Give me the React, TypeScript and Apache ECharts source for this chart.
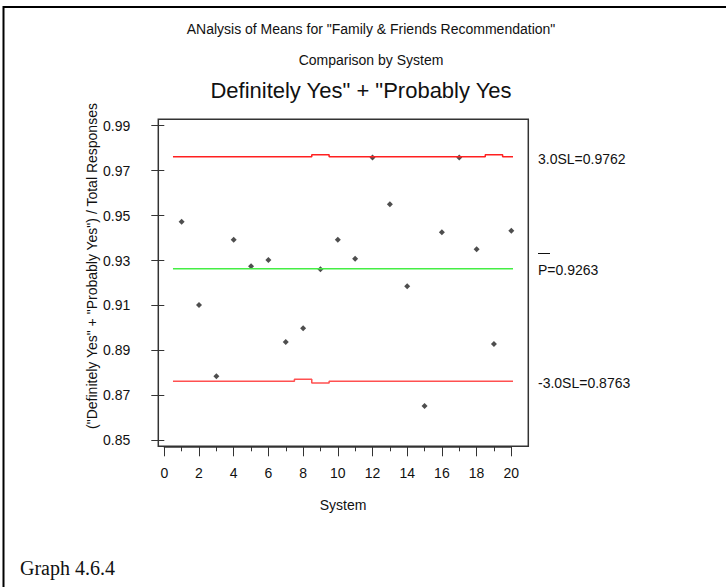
import React, { useEffect, useRef } from "react";
import * as echarts from "echarts";

const systems = [1, 2, 3, 4, 5, 6, 7, 8, 9, 10, 11, 12, 13, 14, 15, 16, 17, 18, 19, 20];
const proportions = [
  0.9473, 0.9102, 0.8785, 0.9392, 0.9274, 0.9302, 0.8937, 0.8999, 0.9261, 0.9392,
  0.9308, 0.9759, 0.9551, 0.9185, 0.8653, 0.9426, 0.9759, 0.935, 0.8929, 0.9433,
];
const centerLine = 0.9263;
const upperLimits = [
  0.9762, 0.9762, 0.9762, 0.9762, 0.9762, 0.9762, 0.9762, 0.9762, 0.9771, 0.9762,
  0.9762, 0.9762, 0.9762, 0.9762, 0.9762, 0.9762, 0.9762, 0.9762, 0.9771, 0.9762,
];
const lowerLimits = [
  0.8763, 0.8763, 0.8763, 0.8763, 0.8763, 0.8763, 0.8763, 0.8772, 0.8755, 0.8763,
  0.8763, 0.8763, 0.8763, 0.8763, 0.8763, 0.8763, 0.8763, 0.8763, 0.8763, 0.8763,
];
const titleLines = [
  'ANalysis of Means for "Family & Friends Recommendation"',
  "Comparison by System",
  'Definitely Yes" + "Probably Yes',
];
const limitLabels = ["3.0SL=0.9762", "P=0.9263", "-3.0SL=0.8763"];
const yAxisName = '("Definitely Yes" + "Probably Yes") / Total Responses';
const xAxisName = "System";
const caption = "Graph 4.6.4";

const FONT = "'Liberation Sans', Arial, sans-serif";

function stepData(limits: number[]) {
  const out: number[][] = [];
  systems.forEach((s, i) => {
    out.push([s - 0.5, limits[i]]);
    out.push([s + 0.5, limits[i]]);
  });
  return out;
}

export default function App() {
  const ref = useRef<HTMLDivElement>(null);
  useEffect(() => {
    if (!ref.current) return;
    const chart = echarts.init(ref.current, null, { renderer: "svg" });
    const option: any = {
      animation: false,
      backgroundColor: "#ffffff",
      grid: { left: 164.3, top: 125.7, width: 347, height: 314.6, containLabel: false },
      xAxis: {
        type: "value",
        min: 0,
        max: 20,
        interval: 2,
        offset: 6,
        axisLine: { show: true, lineStyle: { color: "#333", width: 1.5 } },
        axisTick: { show: true, length: 10, lineStyle: { color: "#333", width: 1 } },
        minorTick: { show: true, splitNumber: 2, length: 5, lineStyle: { color: "#333", width: 1 } },
        splitLine: { show: false },
        axisLabel: { color: "#111", fontSize: 14, fontFamily: FONT, margin: 20 },
      },
      yAxis: {
        type: "value",
        min: 0.85,
        max: 0.99,
        interval: 0.02,
        offset: 6,
        axisLine: { show: false },
        axisTick: { show: true, length: 13, lineStyle: { color: "#333", width: 1 } },
        splitLine: { show: false },
        axisLabel: {
          color: "#111",
          fontSize: 14,
          fontFamily: FONT,
          margin: 28,
          formatter: (v: number) => v.toFixed(2),
        },
      },
      series: [
        {
          type: "line",
          data: stepData(upperLimits),
          symbol: "none",
          clip: false,
          lineStyle: { color: "#ff2020", width: 1.5 },
        },
        {
          type: "line",
          data: stepData(lowerLimits),
          symbol: "none",
          clip: false,
          lineStyle: { color: "#ff5050", width: 1.5 },
        },
        {
          type: "line",
          data: [
            [systems[0] - 0.5, centerLine],
            [systems[systems.length - 1] + 0.5, centerLine],
          ],
          symbol: "none",
          clip: false,
          lineStyle: { color: "#44ee44", width: 1.5 },
        },
        {
          type: "scatter",
          data: systems.map((s, i) => [s, proportions[i]]),
          symbol: "diamond",
          symbolSize: 6,
          itemStyle: { color: "#222" },
        },
      ],
      graphic: [
        { type: "line", shape: { x1: 3, y1: 7, x2: 726, y2: 7 }, style: { stroke: "#000", lineWidth: 2 } },
        { type: "line", shape: { x1: 3.5, y1: 6, x2: 3.5, y2: 587 }, style: { stroke: "#000", lineWidth: 2 } },
        {
          type: "rect",
          shape: { x: 158.3, y: 119.3, width: 370, height: 327 },
          style: { fill: "none", stroke: "#333", lineWidth: 1.5 },
        },
        {
          type: "text",
          x: 371,
          y: 29,
          style: { text: titleLines[0], font: `14px ${FONT}`, fill: "#111", align: "center", verticalAlign: "middle" },
        },
        {
          type: "text",
          x: 371,
          y: 60,
          style: { text: titleLines[1], font: `14px ${FONT}`, fill: "#111", align: "center", verticalAlign: "middle" },
        },
        {
          type: "text",
          x: 361,
          y: 90,
          style: { text: titleLines[2], font: `22px ${FONT}`, fill: "#111", align: "center", verticalAlign: "middle" },
        },
        {
          type: "text",
          x: 538,
          y: 159,
          style: { text: limitLabels[0], font: `14px ${FONT}`, fill: "#111", align: "left", verticalAlign: "middle" },
        },
        { type: "line", shape: { x1: 538, y1: 253.5, x2: 550, y2: 253.5 }, style: { stroke: "#111", lineWidth: 1 } },
        {
          type: "text",
          x: 538,
          y: 270,
          style: { text: limitLabels[1], font: `14px ${FONT}`, fill: "#111", align: "left", verticalAlign: "middle" },
        },
        {
          type: "text",
          x: 538,
          y: 383,
          style: { text: limitLabels[2], font: `14px ${FONT}`, fill: "#111", align: "left", verticalAlign: "middle" },
        },
        {
          type: "text",
          x: 92,
          y: 266,
          rotation: Math.PI / 2,
          style: { text: yAxisName, font: `14px ${FONT}`, fill: "#111", align: "center", verticalAlign: "middle" },
        },
        {
          type: "text",
          x: 343,
          y: 505,
          style: { text: xAxisName, font: `14px ${FONT}`, fill: "#111", align: "center", verticalAlign: "middle" },
        },
        {
          type: "text",
          x: 20,
          y: 568,
          style: {
            text: caption,
            font: `20px 'Liberation Serif', 'Times New Roman', serif`,
            fill: "#111",
            align: "left",
            verticalAlign: "middle",
          },
        },
      ],
    };
    chart.setOption(option);
    return () => chart.dispose();
  }, []);
  return (
    <div
      ref={ref}
      style={{ position: "fixed", left: 0, top: 0, width: 726, height: 587, background: "#fff" }}
    />
  );
}
